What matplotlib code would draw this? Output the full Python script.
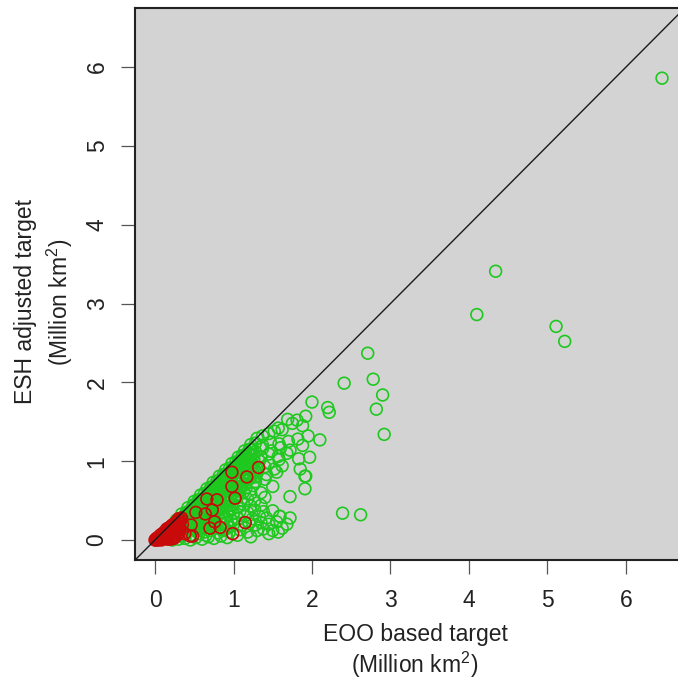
import matplotlib.pyplot as plt

plt.rcParams["font.family"] = ["Liberation Sans", "DejaVu Sans"]
plt.rcParams["mathtext.fontset"] = "custom"
plt.rcParams["mathtext.rm"] = "Liberation Sans"
plt.rcParams["mathtext.it"] = "Liberation Sans:italic"

# EOO based target (x) vs ESH adjusted target (y), million km^2
GREEN_X = [
    0.04, 0.09, 0.15, 0.22, 0.30, 0.38, 0.45, 0.52, 0.60, 0.68, 0.75, 0.84, 0.92, 1.05, 1.22, 1.57, 1.45,
    0.12, 0.20, 0.28, 0.35, 0.41, 0.50, 0.56, 0.63, 0.70, 0.80, 0.87, 0.95, 1.08, 1.18, 1.30, 1.38, 1.50, 1.62,
    0.20, 0.28, 0.36, 0.43, 0.50, 0.57, 0.62, 0.70, 0.78, 0.86, 0.93, 1.00, 1.10, 1.20, 1.28, 1.35, 1.45, 1.55, 1.68,
    0.27, 0.33, 0.40, 0.47, 0.54, 0.60, 0.67, 0.74, 0.82, 0.90, 0.97, 1.06, 1.14, 1.24, 1.33, 1.42, 1.59, 1.72,
    0.34, 0.40, 0.46, 0.52, 0.58, 0.65, 0.71, 0.78, 0.85, 0.92, 1.00, 1.08, 1.18, 1.27, 1.38, 1.50,
    0.42, 0.48, 0.54, 0.60, 0.66, 0.72, 0.78, 0.85, 0.91, 0.98, 1.05, 1.13, 1.22, 1.35,
    0.50, 0.55, 0.60, 0.66, 0.72, 0.78, 0.84, 0.90, 0.97, 1.04, 1.10, 1.18, 1.27, 1.40,
    0.58, 0.63, 0.69, 0.75, 0.81, 0.87, 0.93, 1.00, 1.06, 1.13, 1.22, 1.35,
    0.66, 0.71, 0.77, 0.83, 0.89, 0.95, 1.01, 1.08, 1.16, 1.25, 1.50, 1.91,
    0.74, 0.79, 0.85, 0.91, 0.97, 1.03, 1.10, 1.18, 1.28, 1.40,
    0.82, 0.87, 0.93, 0.99, 1.05, 1.12, 1.20, 1.30, 1.42, 1.55, 1.92,
    0.90, 0.95, 1.01, 1.07, 1.14, 1.22, 1.30, 1.40, 1.52, 1.62, 1.85,
    0.98, 1.03, 1.09, 1.16, 1.24, 1.33, 1.45, 1.58, 1.97, 1.83,
    1.06, 1.11, 1.18, 1.26, 1.35, 1.45, 1.57, 1.68,
    1.14, 1.20, 1.28, 1.37, 1.48, 1.60, 1.72,
    1.22, 1.28, 1.37, 1.47, 1.58, 1.70, 1.82, 1.95, 2.10,
    1.30, 1.37, 1.45, 1.57, 1.52, 1.62, 1.69, 1.81, 1.75, 1.92, 1.88,
    0.15, 0.25, 0.32, 0.38, 0.44, 0.50, 0.56, 0.62, 0.68, 0.74, 0.80, 0.86, 0.92, 0.98, 1.04, 1.10, 1.16, 1.22,
    0.30, 0.37, 0.44, 0.49, 0.55, 0.61, 0.67, 0.73, 0.79, 0.85, 0.91, 0.96, 1.02, 1.08, 1.14, 1.20, 1.26,
    0.40, 0.46, 0.53, 0.59, 0.64, 0.70, 0.76, 0.82, 0.88, 0.94, 1.00, 1.06, 1.12, 1.17, 1.25,
    0.55, 0.61, 0.68, 0.75, 0.81, 0.87, 0.94, 1.01, 1.07, 1.15, 1.21, 1.28,
    0.08, 0.14, 0.19, 0.24, 0.29, 0.34, 0.39, 0.43, 0.48, 0.53, 0.57, 0.61, 0.66, 0.70, 0.75, 0.79,
    0.84, 0.88, 0.93, 0.97, 1.02, 1.06, 1.11, 1.15, 1.19,
    0.35, 0.42, 0.48, 0.53, 0.58, 0.63, 0.69, 0.74, 0.79, 0.84, 0.89, 0.95, 1.00, 1.05, 1.11, 1.17, 1.23,
    0.36, 0.43, 0.50, 0.57, 0.63, 0.70, 0.77, 0.83, 0.89, 0.96, 1.03, 1.09, 1.16,
    0.46, 0.52, 0.58, 0.64, 0.71, 0.77, 0.83, 0.60, 0.67, 0.73, 0.80, 0.86, 0.54, 0.92, 0.97,
    0.23, 0.33, 0.45, 0.65, 0.73, 0.90, 1.72, 1.88, 1.59, 1.91,
    2.00, 2.20, 2.22, 2.71, 2.78, 2.41, 2.90, 2.82, 2.92, 2.39, 2.62,
    4.34, 4.10, 5.11, 5.22, 6.46,
]
GREEN_Y = [
    0.03, 0.01, 0.02, 0.00, 0.01, 0.02, 0.00, 0.03, 0.01, 0.04, 0.02, 0.05, 0.03, 0.06, 0.04, 0.10, 0.08,
    0.10, 0.08, 0.12, 0.09, 0.11, 0.12, 0.08, 0.10, 0.12, 0.09, 0.12, 0.10, 0.13, 0.10, 0.12, 0.14, 0.12, 0.15,
    0.17, 0.19, 0.16, 0.20, 0.17, 0.20, 0.17, 0.20, 0.18, 0.21, 0.17, 0.20, 0.18, 0.21, 0.19, 0.22, 0.20, 0.23, 0.20,
    0.25, 0.27, 0.24, 0.27, 0.25, 0.28, 0.25, 0.27, 0.26, 0.28, 0.25, 0.27, 0.30, 0.27, 0.30, 0.28, 0.30, 0.28,
    0.33, 0.35, 0.32, 0.36, 0.33, 0.36, 0.33, 0.35, 0.34, 0.37, 0.34, 0.36, 0.35, 0.38, 0.36, 0.37,
    0.41, 0.43, 0.40, 0.44, 0.41, 0.44, 0.42, 0.45, 0.42, 0.44, 0.42, 0.45, 0.43, 0.44,
    0.49, 0.51, 0.48, 0.52, 0.49, 0.53, 0.50, 0.53, 0.50, 0.53, 0.50, 0.52, 0.50, 0.54,
    0.57, 0.59, 0.56, 0.60, 0.57, 0.60, 0.57, 0.60, 0.58, 0.61, 0.59, 0.60,
    0.65, 0.67, 0.64, 0.68, 0.65, 0.68, 0.65, 0.68, 0.66, 0.69, 0.68, 0.65,
    0.73, 0.75, 0.72, 0.76, 0.73, 0.76, 0.73, 0.76, 0.74, 0.77,
    0.81, 0.83, 0.80, 0.84, 0.81, 0.84, 0.82, 0.85, 0.83, 0.86, 0.81,
    0.89, 0.91, 0.88, 0.92, 0.89, 0.92, 0.90, 0.93, 0.90, 0.94, 0.90,
    0.97, 0.99, 0.96, 1.00, 0.97, 1.00, 0.98, 1.02, 1.05, 1.03,
    1.05, 1.07, 1.04, 1.08, 1.05, 1.09, 1.06, 1.10,
    1.13, 1.15, 1.12, 1.16, 1.13, 1.17, 1.14,
    1.21, 1.23, 1.20, 1.24, 1.22, 1.25, 1.28, 1.32, 1.27,
    1.29, 1.32, 1.35, 1.42, 1.38, 1.40, 1.53, 1.52, 1.48, 1.57, 1.45,
    0.12, 0.20, 0.22, 0.30, 0.37, 0.45, 0.46, 0.53, 0.60, 0.62, 0.70, 0.77, 0.84, 0.90, 0.95, 1.02, 1.09, 1.15,
    0.15, 0.20, 0.28, 0.30, 0.38, 0.39, 0.46, 0.55, 0.60, 0.62, 0.68, 0.78, 0.80, 0.86, 0.95, 1.00, 1.02,
    0.14, 0.22, 0.29, 0.30, 0.38, 0.39, 0.47, 0.46, 0.55, 0.62, 0.70, 0.71, 0.78, 0.86, 0.85,
    0.13, 0.22, 0.30, 0.31, 0.39, 0.40, 0.47, 0.55, 0.62, 0.70, 0.78, 0.80,
    0.06, 0.10, 0.15, 0.18, 0.24, 0.27, 0.33, 0.36, 0.40, 0.44, 0.50, 0.52, 0.57, 0.63, 0.66, 0.71,
    0.74, 0.80, 0.83, 0.88, 0.92, 0.98, 1.00, 1.06, 1.10,
    0.24, 0.32, 0.35, 0.42, 0.47, 0.50, 0.52, 0.58, 0.65, 0.70, 0.73, 0.80, 0.85, 0.90, 0.93, 1.00, 1.08,
    0.06, 0.15, 0.22, 0.26, 0.30, 0.35, 0.38, 0.43, 0.48, 0.56, 0.64, 0.66, 0.76,
    0.15, 0.21, 0.14, 0.22, 0.16, 0.23, 0.14, 0.31, 0.33, 0.30, 0.32, 0.29, 0.30, 0.22, 0.38,
    0.10, 0.05, 0.06, 0.06, 0.14, 0.14, 0.55, 1.20, 0.30, 0.81,
    1.75, 1.68, 1.62, 2.37, 2.04, 1.99, 1.84, 1.66, 1.34, 0.34, 0.32,
    3.41, 2.86, 2.71, 2.52, 5.86,
]

RED_X = [
    0.00, 0.01, 0.02, 0.02, 0.03, 0.04, 0.04, 0.05, 0.05, 0.06, 0.07, 0.08, 0.08, 0.09, 0.10, 0.10,
    0.11, 0.12, 0.12, 0.13, 0.14, 0.15, 0.15, 0.16, 0.17, 0.18, 0.18, 0.19, 0.20, 0.20, 0.21, 0.22,
    0.22, 0.23, 0.24, 0.24, 0.25, 0.26, 0.26, 0.27, 0.28, 0.29, 0.30, 0.30, 0.31, 0.33, 0.35,
    0.01, 0.03, 0.05, 0.07, 0.09, 0.11, 0.13, 0.15, 0.17, 0.19, 0.21, 0.23, 0.25, 0.27, 0.29,
    0.31, 0.32, 0.34, 0.14, 0.18, 0.22, 0.26, 0.30, 0.06, 0.10, 0.16, 0.20, 0.24, 0.28, 0.32,
    0.98, 1.17, 1.32, 0.98, 1.02, 0.66, 0.79, 0.73, 0.52, 0.64, 0.76, 0.83, 0.70, 0.46, 0.48,
    1.15, 0.99, 0.38, 0.45,
]
RED_Y = [
    0.00, 0.01, 0.00, 0.02, 0.02, 0.03, 0.00, 0.01, 0.04, 0.05, 0.02, 0.07, 0.00, 0.03, 0.08, 0.02,
    0.05, 0.10, 0.02, 0.07, 0.12, 0.04, 0.14, 0.13, 0.09, 0.15, 0.03, 0.11, 0.17, 0.01, 0.06, 0.19,
    0.13, 0.09, 0.20, 0.02, 0.15, 0.22, 0.11, 0.05, 0.18, 0.24, 0.12, 0.27, 0.21, 0.26, 0.20,
    0.00, 0.01, 0.03, 0.06, 0.06, 0.09, 0.04, 0.10, 0.15, 0.07, 0.14, 0.17, 0.08, 0.20, 0.14,
    0.17, 0.23, 0.28, 0.08, 0.06, 0.03, 0.15, 0.08, 0.02, 0.05, 0.01, 0.10, 0.12, 0.24, 0.15,
    0.86, 0.80, 0.92, 0.68, 0.53, 0.52, 0.51, 0.38, 0.35, 0.33, 0.23, 0.16, 0.15, 0.19, 0.05,
    0.22, 0.08, 0.08, 0.05,
]

TICKS = [0, 1, 2, 3, 4, 5, 6]

fig = plt.figure(figsize=(6.78, 6.80), dpi=100)
ax = fig.add_axes([135 / 678, 120 / 680, 560 / 678, 552 / 680])
ax.set_facecolor("#d3d3d3")

ax.scatter(GREEN_X, GREEN_Y, s=72, facecolors="none", edgecolors="#1fc81f", linewidths=1.2, zorder=2)
ax.scatter(RED_X, RED_Y, s=72, facecolors="none", edgecolors="#c80a0a", linewidths=1.2, zorder=3)
ax.axline((0, 0), slope=1, color="#1a1a1a", lw=1.0, zorder=4)

ax.set_xlim(-0.255, 6.88)
ax.set_ylim(-0.254, 6.75)
ax.set_xticks(TICKS)
ax.set_yticks(TICKS)
ax.set_yticklabels([str(t) for t in TICKS], rotation=90, va="center")
ax.tick_params(length=10, width=0.9, color="#555555", labelsize=16.5, labelcolor="#222222")
ax.tick_params(axis="x", pad=11)
ax.tick_params(axis="y", pad=9)

for side in ("left", "bottom", "top"):
    ax.spines[side].set_linewidth(1.5)
    ax.spines[side].set_color("#222222")
ax.spines["right"].set_visible(False)

fig.text(26 / 678, 1 - 302 / 680, "ESH adjusted target", rotation=90,
         ha="center", va="center", fontsize=16.5, color="#222222")
fig.text(60 / 678, 1 - 302 / 680, "(Million km$^2$)", rotation=90,
         ha="center", va="center", fontsize=16.5, color="#222222")
fig.text(415 / 678, 1 - 634 / 680, "EOO based target",
         ha="center", va="center", fontsize=16.5, color="#222222")
fig.text(415 / 678, 1 - 665 / 680, "(Million km$^2$)",
         ha="center", va="center", fontsize=16.5, color="#222222")

fig.savefig("out.png", dpi=100)
